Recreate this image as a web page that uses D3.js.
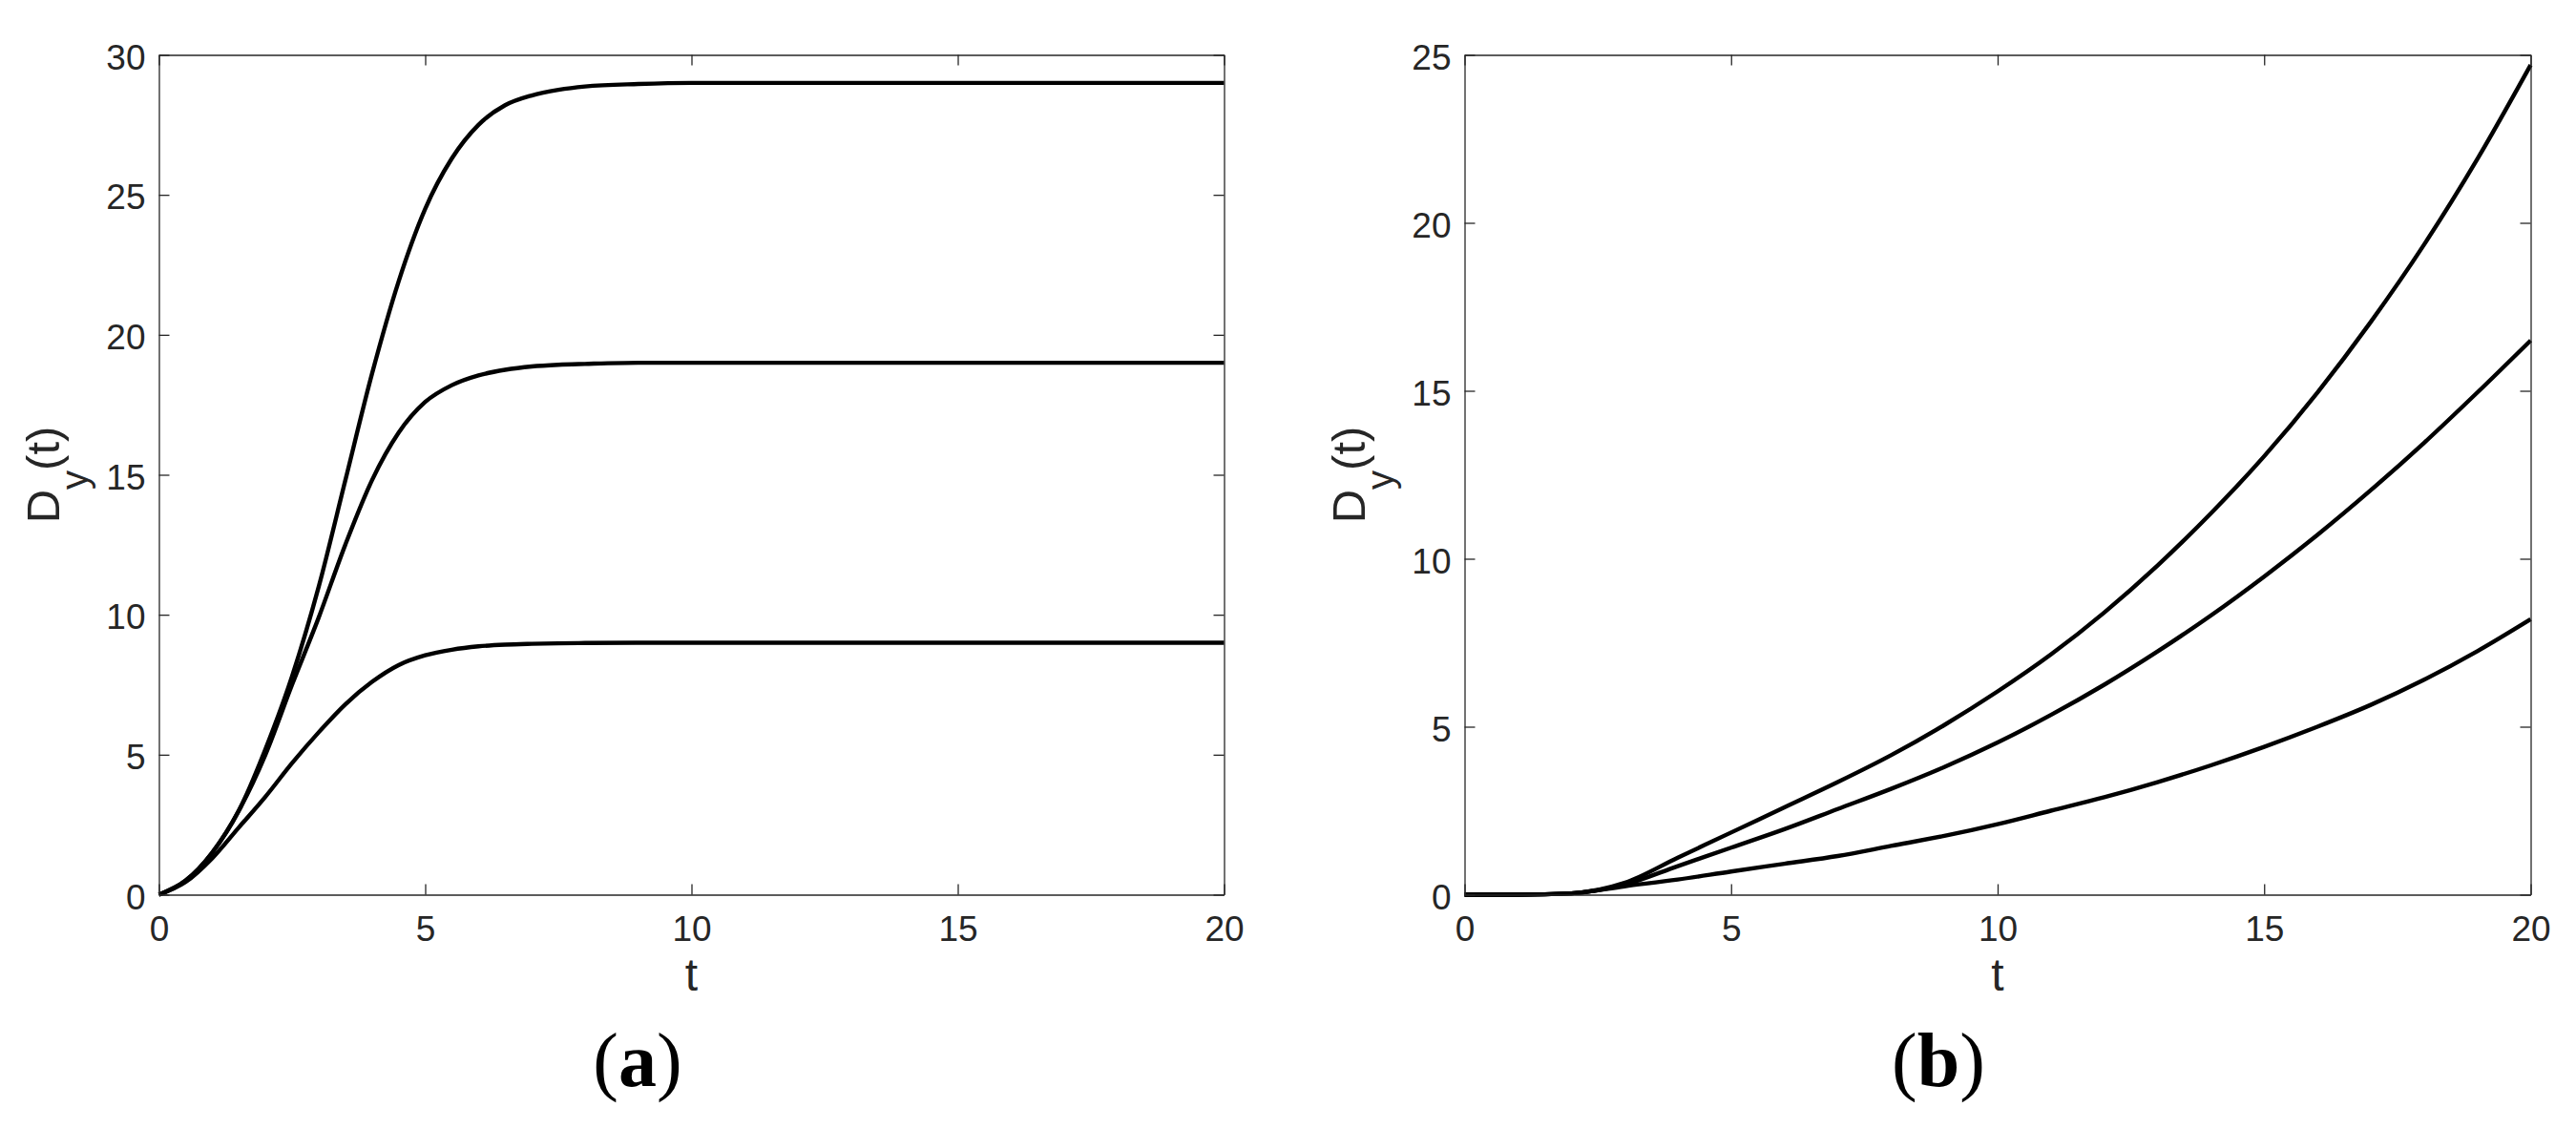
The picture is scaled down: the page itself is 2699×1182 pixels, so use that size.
<!DOCTYPE html>
<html>
<head>
<meta charset="utf-8">
<script src="https://cdn.jsdelivr.net/npm/d3@7"></script>
<style>
  body { margin: 0; background: #fff; }
  svg { display: block; }
  text { font-family: "Liberation Sans", Arial, sans-serif; fill: #262626; }
</style>
</head>
<body>
<div id="chart"></div>
<script>
// panel (a): saturating curves
var tA = [0, 0.5, 1, 1.5, 2, 2.5, 3, 3.5, 4, 4.5, 5, 5.5, 6, 6.5, 7, 7.5, 8, 9, 10, 12, 15, 20];
var a29 = [0, 0.5, 1.5, 3.0, 5.2, 7.8, 11.0, 14.8, 18.6, 21.9, 24.5, 26.3, 27.5, 28.2, 28.55, 28.75, 28.87, 28.96, 29, 29, 29, 29];
var a19 = [0, 0.5, 1.5, 3.0, 5.0, 7.5, 9.9, 12.5, 14.8, 16.5, 17.6, 18.2, 18.55, 18.75, 18.87, 18.93, 18.96, 19, 19, 19, 19, 19];
var a9  = [0, 0.45, 1.3, 2.4, 3.5, 4.7, 5.8, 6.8, 7.6, 8.2, 8.55, 8.75, 8.87, 8.93, 8.96, 8.98, 8.99, 9, 9, 9, 9, 9];

// panel (b): growing curves
var tB = [0, 1, 2, 3, 4, 5, 6, 7, 8, 9, 10, 11, 12, 13, 14, 15, 16, 17, 18, 19, 20];
var bTop = [0, 0, 0.04, 0.35, 1.1, 1.85, 2.6, 3.35, 4.15, 5.05, 6.05, 7.15, 8.4, 9.8, 11.35, 13.05, 14.95, 17.05, 19.35, 21.9, 24.7];
var bMid = [0, 0, 0.04, 0.3, 0.85, 1.4, 1.95, 2.55, 3.15, 3.8, 4.53, 5.35, 6.25, 7.24, 8.31, 9.47, 10.71, 12.04, 13.45, 14.95, 16.5];
var bLow = [0, 0, 0.04, 0.25, 0.45, 0.69, 0.92, 1.15, 1.45, 1.75, 2.1, 2.5, 2.9, 3.35, 3.85, 4.4, 5.0, 5.65, 6.4, 7.25, 8.2];

var xTicks = [0, 5, 10, 15, 20];
var yTicksA = [0, 5, 10, 15, 20, 25, 30];
var yTicksB = [0, 5, 10, 15, 20, 25];

var width = 2699, height = 1182;

var svg = d3.select("#chart").append("svg")
  .attr("width", width)
  .attr("height", height);

var panels = [
  { left: 166.5, right: 1282.5, ymax: 30, yTicks: yTicksA, t: tA, series: [a29, a19, a9], tag: "a", tagX: 668 },
  { left: 1534.5, right: 2651.5, ymax: 25, yTicks: yTicksB, t: tB, series: [bTop, bMid, bLow], tag: "b", tagX: 2031 }
];

var plotTop = 57.5, plotBottom = 937.5, tickLen = 11;

panels.forEach(function(p) {
  var x = d3.scaleLinear().domain([0, 20]).range([p.left, p.right]);
  var y = d3.scaleLinear().domain([0, p.ymax]).range([plotBottom, plotTop]);
  var g = svg.append("g");

  // curves
  var line = d3.line()
    .x(function(d) { return x(d[0]); })
    .y(function(d) { return y(d[1]); })
    .curve(d3.curveMonotoneX);

  p.series.forEach(function(s) {
    g.append("path")
      .datum(p.t.map(function(t, i) { return [t, s[i]]; }))
      .attr("d", line)
      .attr("fill", "none")
      .attr("stroke", "#000")
      .attr("stroke-width", 4.4)
      .attr("stroke-linejoin", "round");
  });

  // axes, ticks inward on all sides
  var axB = d3.axisBottom(x).tickValues(xTicks).tickSizeInner(-tickLen).tickSizeOuter(0).tickPadding(22);
  var axT = d3.axisTop(x).tickValues(xTicks).tickSizeInner(-tickLen).tickSizeOuter(0).tickFormat("");
  var axL = d3.axisLeft(y).tickValues(p.yTicks).tickSizeInner(-tickLen).tickSizeOuter(0).tickPadding(14);
  var axR = d3.axisRight(y).tickValues(p.yTicks).tickSizeInner(-tickLen).tickSizeOuter(0).tickFormat("");

  var gb = g.append("g").attr("transform", "translate(0," + plotBottom + ")").call(axB);
  var gt = g.append("g").attr("transform", "translate(0," + plotTop + ")").call(axT);
  var gl = g.append("g").attr("transform", "translate(" + p.left + ",0)").call(axL);
  var gr = g.append("g").attr("transform", "translate(" + p.right + ",0)").call(axR);

  [gb, gt, gl, gr].forEach(function(a) {
    a.selectAll("path, line").attr("stroke", "#262626").attr("stroke-width", 1.3);
    a.selectAll("text")
      .attr("fill", "#262626")
      .style("font-family", '"Liberation Sans", Arial, sans-serif')
      .style("font-size", "37px");
  });
  gb.selectAll("text").attr("dy", "0.71em");
  gl.selectAll("text").attr("dy", "0.4em");

  // y label D_y(t)
  var yl = g.append("text")
    .attr("transform", "translate(" + (p.left - 105) + "," + ((plotTop + plotBottom) / 2) + ") rotate(-90)")
    .attr("text-anchor", "middle")
    .style("font-size", "49px");
  yl.append("tspan").text("D");
  yl.append("tspan").attr("dy", 30).style("font-size", "40px").text("y");
  yl.append("tspan").attr("dy", -30).text("(t)");

  // x label
  g.append("text")
    .attr("x", (p.left + p.right) / 2)
    .attr("y", 1038)
    .attr("text-anchor", "middle")
    .style("font-size", "48px")
    .text("t");

  // panel tag
  var tag = g.append("text")
    .attr("x", p.tagX)
    .attr("y", 1138)
    .attr("text-anchor", "middle")
    .style("font-family", '"Liberation Serif", "Times New Roman", serif')
    .style("font-size", "80px")
    .style("fill", "#000");
  tag.append("tspan").text("(");
  tag.append("tspan").style("font-weight", "bold").text(p.tag);
  tag.append("tspan").text(")");
});
</script>
</body>
</html>
